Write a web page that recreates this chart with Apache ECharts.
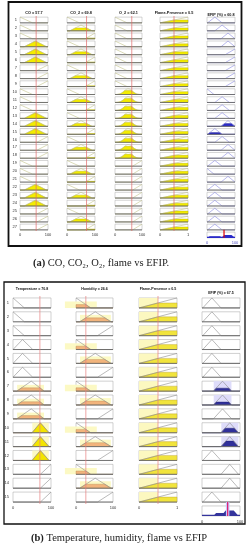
<!DOCTYPE html>
<html><head><meta charset="utf-8">
<script src="https://cdn.jsdelivr.net/npm/echarts@6/dist/echarts.min.js"></script>
<style>html,body{margin:0;padding:0;background:#fff}#c{width:251px;height:550px}</style>
</head><body><div id="c"></div>
<script>
// ================= DATA =================
// ---- Panel (a): CO, CO2, O2, flame vs EFIP ----
const rowLabelsA = ['1','2','3','4','5','6','7','8','9','10','11','12','13','14','15','16','17','18','19','20','21','22','23','24','25','26','27'];
const titlesA = ['CO = 57.7','CO_2 = 69.8','O_2 = 62.1','Flame-Presence = 0.5','EFIP (%) = 60.8'];
const coValue = 57.7;
const co2Value = 69.8;
const o2Value = 62.1;
const flameValueA = 0.5;
const efipValueA = 60.8;
// membership functions (breakpoints [x, degree])
const coMfs  = [{pts:[[0,1],[45,0],[100,0]]}, {pts:[[0,0],[15,0],[55,1],[95,0],[100,0]]}, {pts:[[0,0],[60,0],[100,1]]}];
const co2Mfs = [{pts:[[0,1],[45,0],[100,0]]}, {pts:[[0,0],[10,0],[50,1],[90,0],[100,0]]}, {pts:[[0,0],[65,0],[100,1]]}];
const o2Mfs  = [{pts:[[0,1],[45,0],[100,0]]}, {gauss:[49,15]}, {pts:[[0,0],[65,0],[100,1]]}];
const flameMfs = [{pts:[[0,0],[1,1]]}];
const efipMfsA = [{pts:[[0,1],[25,0],[100,0]]}, {pts:[[0,0],[2,0],[28,1],[54,0],[100,0]]}, {pts:[[0,0],[28,0],[54,1],[80,0],[100,0]]}, {pts:[[0,0],[50,0],[75,1],[100,0]]}, {pts:[[0,0],[65,0],[100,1]]}];
// rule table (index of membership function used in each rule)
const coRulesA    = [0,0,0,1,1,1,2,2,2, 0,0,0,1,1,1,2,2,2, 0,0,0,1,1,1,2,2,2];
const co2RulesA   = [0,1,2,0,1,2,0,1,2, 0,1,2,0,1,2,0,1,2, 0,1,2,0,1,2,0,1,2];
const o2RulesA    = [0,0,0,0,0,0,0,0,0, 1,1,1,1,1,1,1,1,1, 2,2,2,2,2,2,2,2,2];
const flameRulesA = [0,0,0,0,0,0,0,0,0, 0,0,0,0,0,0,0,0,0, 0,0,0,0,0,0,0,0,0];
const efipRulesA  = [1,2,3,3,4,4,4,4,4, 0,2,2,2,3,1,2,3,3, 1,0,3,1,1,1,1,1,1];
const efipFireA   = [0,0,0,0,0,0,0,0,0, 0,0,0,0,0.5,0.3,0,0,0, 0,0,0,0,0,0,0,0,0];

// ---- Panel (b): temperature, humidity, flame vs EFIP ----
const rowLabelsB = ['1','2','3','4','5','6','7','8','9','10','11','12','13','14','15'];
const titlesB = ['Temperature = 70.8','Humidity = 26.6','Flame-Presence = 0.5','EFIP (%) = 67.5'];
const tempValue = 70.8;
const humValue = 26.6;
const flameValueB = 0.5;
const efipValueB = 67.5;
const tempMfs = [{pts:[[0,1],[30,0],[100,0]]}, {pts:[[0,0],[25,1],[52,0],[100,0]]}, {pts:[[0,0],[10,0],[48,1],[82,0],[100,0]]}, {pts:[[0,0],[50,0],[72,1],[95,0],[100,0]]}, {pts:[[0,0],[72,0],[100,1]]}];
const humMfs  = [{pts:[[0,1],[40,0],[100,0]]}, {pts:[[0,0],[10,0],[52,1],[95,0],[100,0]]}, {pts:[[0,0],[58,0],[100,1]]}];
const efipMfsB = [{pts:[[0,0],[2,0],[26,1],[50,0],[100,0]]}, {pts:[[0,0],[30,0],[54,1],[78,0],[100,0]]}, {pts:[[0,0],[50,0],[73,1],[96,0],[100,0]]}];
const tempRulesB  = [0,0,0,1,1,1,2,2,2,3,3,3,4,4,4];
const humRulesB   = [0,1,2,0,1,2,0,1,2,0,1,2,0,1,2];
const flameRulesB = [0,0,0,0,0,0,0,0,0,0,0,0,0,0,0];
const efipRulesB  = [0,0,0,0,0,0,1,1,1,2,2,0,2,2,0];
const efipFireB   = [0,0,0,0,0,0,0.3,0.3,0,0.45,0.55,0,0,0,0];

// ================= HELPERS =================
function mu(mf, x){
  if (mf.gauss){ const c=mf.gauss[0], s=mf.gauss[1]; return Math.exp(-(x-c)*(x-c)/(2*s*s)); }
  const p = mf.pts;
  if (x <= p[0][0]) return p[0][1];
  for (let k=0;k<p.length-1;k++){
    if (x <= p[k+1][0]){ const d=p[k+1][0]-p[k][0]; const t=d? (x-p[k][0])/d : 1; return p[k][1]+t*(p[k+1][1]-p[k][1]); }
  }
  return p[p.length-1][1];
}
function xsOf(min,max){ const a=[]; for(let k=0;k<=120;k++) a.push(min+(max-min)*k/120); return a; }
function supportOf(mf,min,max){ const xs=xsOf(min,max).filter(x=>mu(mf,x)>1e-6); return [xs[0], xs[xs.length-1]]; }

const grids=[], xAxes=[], yAxes=[], series=[], graphics=[];

function addAxes(left, width, top, height, cats, min, max, showY, yMargin, xColor, fs){
  const g = grids.length;
  grids.push({left:left, top:top, width:width, height:height, containLabel:false, outerBoundsMode:'none'});
  xAxes.push({gridIndex:g, type:'value', min:min, max:max, interval:max-min,
    axisLine:{show:false}, axisTick:{show:false}, splitLine:{show:false},
    axisLabel:{fontSize:fs, margin:2, color:xColor, fontFamily:'Liberation Sans', showMinLabel:true, showMaxLabel:true}});
  yAxes.push({gridIndex:g, type:'category', data:cats, inverse:true,
    axisLine:{show:false}, axisTick:{show:false}, splitLine:{show:false},
    axisLabel:{show:showY, interval:0, fontSize:fs, margin:yMargin, color:'#333', fontFamily:'Liberation Sans'}});
  return g;
}

function cellSeries(o){
  return {
    type:'custom', coordinateSystem:'cartesian2d', xAxisIndex:o.g, yAxisIndex:o.g, silent:true, clip:false,
    data:o.rules.map((r,i)=>[o.min,i]),
    renderItem:function(params, api){
      const i = api.value(1);
      const mf = o.mfs[o.rules[i]];
      const lev = o.levels[i];
      const band = api.size([0,1])[1];
      const h = band*0.72;
      const yc = api.coord([o.min,i])[1];
      const top = yc-h/2, bot = yc+h/2;
      const X = x => api.coord([x,i])[0];
      const P = (x,m) => [X(x), bot-m*h];
      const x0 = X(o.min), x1 = X(o.max);
      const ch = [];
      ch.push({type:'rect', shape:{x:x0,y:top,width:x1-x0,height:h}, style:{fill:'#fff', stroke:o.st.frame, lineWidth:0.5}});
      if (lev>0 && o.st.box){
        let s;
        if (o.boxToValue) s=[o.min, o.value];
        else { s = supportOf(mf,o.min,o.max); if (s[0]===o.min && mu(mf,o.min)>0.99) s=[o.min-(o.max-o.min)*0.3, s[1]+(o.max-o.min)*0.17]; }
        const bh = o.boxFull ? 1 : Math.min(1, lev+0.3);
        const a = P(s[0],0), b = P(s[1],bh);
        ch.push({type:'rect', shape:{x:a[0], y:b[1], width:b[0]-a[0], height:a[1]-b[1]}, style:{fill:o.st.box}});
      }
      const xs = xsOf(o.min,o.max);
      if (lev>0){
        const poly=[P(o.min,0)];
        xs.forEach(x=>poly.push(P(x, Math.min(mu(mf,x),lev))));
        poly.push(P(o.max,0));
        const fc = typeof o.st.fill==='function' ? o.st.fill(lev) : o.st.fill;
        ch.push({type:'polygon', shape:{points:poly}, style:{fill:fc, stroke:o.st.fillEdge, lineWidth:0.4}});
      }
      const line = mf.pts ? mf.pts.map(p=>P(p[0],p[1])) : xs.map(x=>P(x,mu(mf,x)));
      ch.push({type:'polyline', shape:{points:line}, style:{stroke:o.st.mf, lineWidth:0.6, fill:null}});
      ch.push({type:'line', shape:{x1:x0,y1:bot,x2:x1,y2:bot}, style:{stroke:o.st.base, lineWidth:0.9}});
      return {type:'group', children:ch};
    }
  };
}

function redLineSeries(g, value, n, color){
  return {
    type:'custom', coordinateSystem:'cartesian2d', xAxisIndex:g, yAxisIndex:g, silent:true, clip:false,
    data:[[value,0]],
    renderItem:function(params, api){
      const band = api.size([0,1])[1];
      const x = api.coord([api.value(0),0])[0];
      const y1 = api.coord([api.value(0),0])[1]-band/2;
      const y2 = api.coord([api.value(0),n-1])[1]+band/2;
      return {type:'line', shape:{x1:x,y1:y1,x2:x,y2:y2}, style:{stroke:color, lineWidth:0.7}};
    }
  };
}

function aggSeries(g, idx, mfs, rules, fire, value, st){
  return {
    type:'custom', coordinateSystem:'cartesian2d', xAxisIndex:g, yAxisIndex:g, silent:true, clip:false,
    data:[[0,idx]],
    renderItem:function(params, api){
      const i = api.value(1);
      const band = api.size([0,1])[1];
      const h = band*0.72;
      const yc = api.coord([0,i])[1];
      const top = yc-h/2, bot = yc+h/2;
      const P = (x,m) => [api.coord([x,i])[0], bot-m*h];
      const x0 = P(0,0)[0], x1 = P(100,0)[0];
      const ch = [];
      ch.push({type:'rect', shape:{x:x0,y:top,width:x1-x0,height:h}, style:{fill:'#fff', stroke:st.frame, lineWidth:0.5}});
      const poly=[P(0,0)];
      xsOf(0,100).forEach(x=>{
        let m=0; rules.forEach((r,k)=>{ if(fire[k]>0) m=Math.max(m, Math.min(mu(mfs[r],x), fire[k])); });
        poly.push(P(x,m));
      });
      poly.push(P(100,0));
      ch.push({type:'polygon', shape:{points:poly}, style:{fill:st.fill}});
      ch.push({type:'line', shape:{x1:x0,y1:bot-0.5,x2:x1,y2:bot-0.5}, style:{stroke:st.fill, lineWidth:1.3}});
      const r0 = P(value,0), r1 = P(value,1.4);
      if (st.glow) ch.push({type:'line', shape:{x1:r0[0],y1:r0[1],x2:r1[0],y2:r1[1]}, style:{stroke:st.glow, lineWidth:3.5}});
      ch.push({type:'line', shape:{x1:r0[0],y1:r0[1],x2:r1[0],y2:r1[1]}, style:{stroke:st.red, lineWidth:1.2}});
      return {type:'group', children:ch};
    }
  };
}

// ================= PANEL (a) =================
const stA = {frame:'#a8a8a8', base:'#6a6a6a', mf:'#c2c28a', fill:'#f3ec00', fillEdge:'#b9ad00'};
const stAout = {frame:'#a8a8a8', base:'#6a6a6a', mf:'#8a8ae0', fill:'#2a2ac8', fillEdge:'#1a1a90'};
const colsA = [{l:20,w:28},{l:67,w:28},{l:115,w:27},{l:160,w:28},{l:207,w:28}];
const topA = 16, hA = 215, rowA = hA/27;
const inA = [
  {mfs:coMfs, rules:coRulesA, value:coValue, min:0, max:100},
  {mfs:co2Mfs, rules:co2RulesA, value:co2Value, min:0, max:100},
  {mfs:o2Mfs, rules:o2RulesA, value:o2Value, min:0, max:100},
  {mfs:flameMfs, rules:flameRulesA, value:flameValueA, min:0, max:1}
];
inA.forEach((c,k)=>{
  const g = addAxes(colsA[k].l, colsA[k].w, topA, hA, rowLabelsA, c.min, c.max, k===0, 3, '#333', 4);
  const levels = c.rules.map(r=>mu(c.mfs[r], c.value));
  series.push(cellSeries({g:g, mfs:c.mfs, rules:c.rules, levels:levels, min:c.min, max:c.max, value:c.value, st:stA}));
  series.push(redLineSeries(g, c.value, 27, '#e06868'));
});
{
  const g = addAxes(colsA[4].l, colsA[4].w, topA, rowA*28, rowLabelsA.concat(['']), 0, 100, false, 3, '#5050c0', 4);
  series.push(cellSeries({g:g, mfs:efipMfsA, rules:efipRulesA, levels:efipFireA, min:0, max:100, st:stAout}));
  series.push(aggSeries(g, 27, efipMfsA, efipRulesA, efipFireA, efipValueA, {frame:'#a8a8a8', fill:'#2a2ac8', red:'#e00000'}));
}
titlesA.forEach((t,k)=>{
  graphics.push({type:'text', x:colsA[k].l+colsA[k].w/2, y:(k===4?15:12.5), style:{text:t, fill:'#111', font:'bold 3.8px "Liberation Sans"', align:'center', verticalAlign:'middle'}});
});
graphics.push({type:'rect', shape:{x:8.5, y:2, width:233, height:244}, style:{fill:null, stroke:'#111', lineWidth:1.8}});
graphics.push({type:'text', x:33, y:263, style:{text:'{b|(a)} CO, CO₂, O₂, flame vs EFIP.', fill:'#222', font:'10.5px "Liberation Serif"', align:'left', verticalAlign:'middle',
  rich:{b:{fontWeight:'bold', fontSize:10.5, fontFamily:'Liberation Serif', fill:'#222'}}}});

// ================= PANEL (b) =================
const stB = {frame:'#a0a0a0', base:'#6a6a6a', mf:'#8c8c8c', fill:l=>(l<0.45?'#f2b47c':'#f3e400'), fillEdge:'#b88a50', box:'#fcf9c4'};
const stBflame = {frame:'#a0a0a0', base:'#6a6a6a', mf:'#8c8c8c', fill:'#f1e43c', fillEdge:'#b8a040', box:'#fcf8c0'};
const stBout = {frame:'#a0a0a0', base:'#6a6a6a', mf:'#8c8c8c', fill:'#30309a', fillEdge:'#202070', box:'#dedcfa'};
const colsB = [{l:13,w:38},{l:76,w:37},{l:139,w:38},{l:202,w:38}];
const topB = 296, hB = 208, rowB = hB/15;
const inB = [
  {mfs:tempMfs, rules:tempRulesB, value:tempValue, min:0, max:100, st:stB},
  {mfs:humMfs, rules:humRulesB, value:humValue, min:0, max:100, st:stB},
  {mfs:flameMfs, rules:flameRulesB, value:flameValueB, min:0, max:1, st:stBflame, boxToValue:true, boxFull:true}
];
inB.forEach((c,k)=>{
  const g = addAxes(colsB[k].l, colsB[k].w, topB, hB, rowLabelsB, c.min, c.max, k===0, 4, '#333', 4);
  const levels = c.rules.map(r=>mu(c.mfs[r], c.value));
  series.push(cellSeries({g:g, mfs:c.mfs, rules:c.rules, levels:levels, min:c.min, max:c.max, value:c.value, st:c.st, boxToValue:c.boxToValue, boxFull:c.boxFull}));
  series.push(redLineSeries(g, c.value, 15, '#e88080'));
});
{
  const g = addAxes(colsB[3].l, colsB[3].w, topB, rowB*16, rowLabelsB.concat(['']), 0, 100, false, 4, '#333', 4);
  series.push(cellSeries({g:g, mfs:efipMfsB, rules:efipRulesB, levels:efipFireB, min:0, max:100, st:stBout, boxFull:true}));
  series.push(aggSeries(g, 15, efipMfsB, efipRulesB, efipFireB, efipValueB, {frame:'#a0a0a0', fill:'#34349c', red:'#e0206a', glow:'#c8c4ff'}));
}
titlesB.forEach((t,k)=>{
  graphics.push({type:'text', x:colsB[k].l+colsB[k].w/2, y:(k===3?293:289), style:{text:t, fill:'#111', font:'bold 3.6px "Liberation Sans"', align:'center', verticalAlign:'middle'}});
});
graphics.push({type:'rect', shape:{x:4, y:282, width:241, height:242}, style:{fill:null, stroke:'#111', lineWidth:1.3}});
graphics.push({type:'text', x:31, y:538, style:{text:'{b|(b)} Temperature, humidity, flame vs EFIP', fill:'#222', font:'10.5px "Liberation Serif"', align:'left', verticalAlign:'middle',
  rich:{b:{fontWeight:'bold', fontSize:10.5, fontFamily:'Liberation Serif', fill:'#222'}}}});

const chart = echarts.init(document.getElementById('c'), null, {renderer:'canvas', width:251, height:550});
chart.setOption({
  animation:false,
  backgroundColor:'#fff',
  grid:grids, xAxis:xAxes, yAxis:yAxes, series:series,
  graphic:{elements:graphics}
});
</script></body></html>
